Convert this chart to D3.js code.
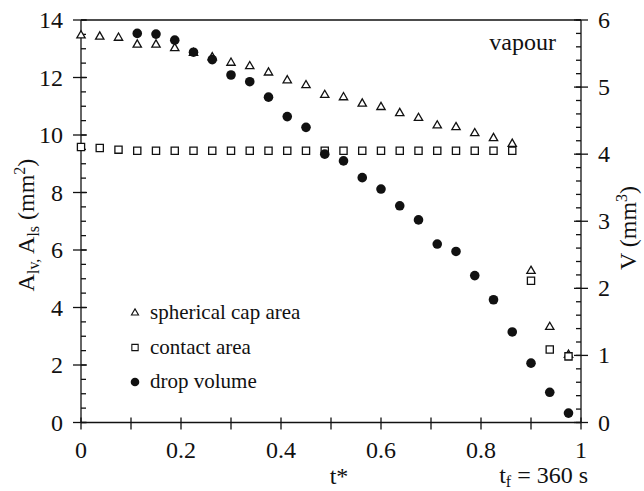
<!DOCTYPE html>
<html>
<head>
<meta charset="utf-8">
<script src="https://cdn.jsdelivr.net/npm/d3@7"></script>
<style>
  html, body { margin: 0; padding: 0; background: #fff; }
  svg { display: block; }
</style>
</head>
<body>
<svg id="chart" width="644" height="491"></svg>
<script>
// Normalised time t* of each measurement (t_f = 360 s)
const tAreas = [0, 0.0375, 0.075, 0.1125, 0.15, 0.1875, 0.225, 0.2625, 0.3, 0.3375,
  0.375, 0.4125, 0.45, 0.4875, 0.525, 0.5625, 0.6, 0.6375, 0.675, 0.7125,
  0.75, 0.7875, 0.825, 0.8625, 0.9, 0.9375, 0.975];
// Spherical cap (liquid-vapour) area A_lv, mm²
const capArea = [13.46, 13.42, 13.38, 13.14, 13.14, 13.02, 12.85, 12.7, 12.51, 12.39,
  12.17, 11.9, 11.73, 11.39, 11.31, 11.09, 10.97, 10.76, 10.59, 10.33,
  10.27, 10.06, 9.89, 9.69, 5.27, 3.32, 2.35];
// Contact (liquid-solid) area A_ls, mm²
const contactArea = [9.58, 9.55, 9.49, 9.45, 9.45, 9.45, 9.45, 9.45, 9.45, 9.45,
  9.45, 9.45, 9.45, 9.45, 9.45, 9.45, 9.45, 9.45, 9.45, 9.45,
  9.45, 9.45, 9.45, 9.45, 4.93, 2.54, 2.30];
// Drop volume V, mm³
const tVolume = [0.1125, 0.15, 0.1875, 0.225, 0.2625, 0.3, 0.3375, 0.375, 0.4125, 0.45,
  0.4875, 0.525, 0.5625, 0.6, 0.6375, 0.675, 0.7125, 0.75, 0.7875, 0.825,
  0.8625, 0.9, 0.9375, 0.975];
const volume = [5.80, 5.79, 5.70, 5.52, 5.41, 5.18, 5.08, 4.85, 4.56, 4.40,
  4.00, 3.90, 3.65, 3.48, 3.23, 3.02, 2.66, 2.55, 2.19, 1.83,
  1.35, 0.885, 0.45, 0.14];

// Axis ticks
const xTicks = [0, 0.1, 0.2, 0.3, 0.4, 0.5, 0.6, 0.7, 0.8, 0.9, 1];
const xLabels = ["0", "0.2", "0.4", "0.6", "0.8", "1"];
const leftMajor = [0, 2, 4, 6, 8, 10, 12, 14];
const rightMajor = [0, 1, 2, 3, 4, 5, 6];

const legendItems = ["spherical cap area", "contact area", "drop volume"];

const serif = "'Liberation Serif', 'Times New Roman', 'DejaVu Serif', serif";
const svg = d3.select("#chart")
  .attr("font-family", serif)
  .style("font-family", serif);
const L = 81, R = 581, T = 20, B = 422.5;

const x = d3.scaleLinear().domain([0, 1]).range([L, R]);
const yL = d3.scaleLinear().domain([0, 14]).range([B, T]);
const yR = d3.scaleLinear().domain([0, 6]).range([B, T]);

const ink = "#111";
const lw = 1.3;

// Frame
svg.append("line").attr("x1", L).attr("x2", R).attr("y1", T).attr("y2", T)
  .attr("stroke", ink).attr("stroke-width", lw);
svg.append("line").attr("x1", L).attr("x2", R).attr("y1", B).attr("y2", B)
  .attr("stroke", ink).attr("stroke-width", lw);
svg.append("line").attr("x1", L).attr("x2", L).attr("y1", T).attr("y2", B)
  .attr("stroke", ink).attr("stroke-width", lw);
svg.append("line").attr("x1", R).attr("x2", R).attr("y1", T).attr("y2", B)
  .attr("stroke", ink).attr("stroke-width", lw);

// Bottom axis ticks (crossing the axis line)
const gx = svg.append("g");
gx.selectAll("line").data(xTicks).join("line")
  .attr("x1", d => x(d)).attr("x2", d => x(d))
  .attr("y1", B - 5).attr("y2", B + 7)
  .attr("stroke", ink).attr("stroke-width", lw);
gx.selectAll("text").data(xLabels).join("text")
  .attr("x", d => x(+d)).attr("y", 458)
  .attr("text-anchor", "middle").attr("font-size", 24).attr("fill", ink)
  .text(d => d);

// Left axis: minor ticks every 0.5, major every 2
const leftMinor = d3.range(0, 14.01, 0.5);
const gl = svg.append("g");
gl.selectAll("line.minor").data(leftMinor).join("line").attr("class", "minor")
  .attr("x1", L).attr("x2", L + 5)
  .attr("y1", d => yL(d)).attr("y2", d => yL(d))
  .attr("stroke", ink).attr("stroke-width", lw);
gl.selectAll("line.major").data(leftMajor).join("line").attr("class", "major")
  .attr("x1", L - 8).attr("x2", L + 6)
  .attr("y1", d => yL(d)).attr("y2", d => yL(d))
  .attr("stroke", ink).attr("stroke-width", lw);
gl.selectAll("text").data(leftMajor).join("text")
  .attr("x", 63).attr("y", d => yL(d) + 8)
  .attr("text-anchor", "end").attr("font-size", 24).attr("fill", ink)
  .text(d => d);

// Right axis: minor ticks every 0.2, major every 1
const rightMinor = d3.range(0, 6.001, 0.2);
const gr = svg.append("g");
gr.selectAll("line.minor").data(rightMinor).join("line").attr("class", "minor")
  .attr("x1", R - 5).attr("x2", R)
  .attr("y1", d => yR(d)).attr("y2", d => yR(d))
  .attr("stroke", ink).attr("stroke-width", lw);
gr.selectAll("line.major").data(rightMajor).join("line").attr("class", "major")
  .attr("x1", R - 7).attr("x2", R + 7)
  .attr("y1", d => yR(d)).attr("y2", d => yR(d))
  .attr("stroke", ink).attr("stroke-width", lw);
gr.selectAll("text").data(rightMajor).join("text")
  .attr("x", 598).attr("y", d => yR(d) + 8)
  .attr("text-anchor", "start").attr("font-size", 24).attr("fill", ink)
  .text(d => d);

// Axis titles
svg.append("text").attr("x", 339).attr("y", 484).attr("fill", ink)
  .attr("text-anchor", "middle").attr("font-size", 24).text("t*");

const tf = svg.append("text").attr("x", 588).attr("y", 483).attr("fill", ink)
  .attr("text-anchor", "end").attr("font-size", 24);
tf.append("tspan").text("t");
tf.append("tspan").attr("font-size", 16).attr("dy", 4).text("f");
tf.append("tspan").attr("dy", -4).text(" = 360 s");

const yt = svg.append("text").attr("fill", ink)
  .attr("transform", "translate(34,225) rotate(-90)")
  .attr("text-anchor", "middle").attr("font-size", 24);
yt.append("tspan").text("A");
yt.append("tspan").attr("font-size", 16).attr("dy", 5).text("lv,");
yt.append("tspan").attr("dy", -5).text(" A");
yt.append("tspan").attr("font-size", 16).attr("dy", 5).text("ls");
yt.append("tspan").attr("dy", -5).text(" (mm");
yt.append("tspan").attr("font-size", 16).attr("dy", -9).text("2");
yt.append("tspan").attr("dy", 9).text(")");

const vt = svg.append("text").attr("fill", ink)
  .attr("transform", "translate(636,228) rotate(-90)")
  .attr("text-anchor", "middle").attr("font-size", 24);
vt.append("tspan").text("V (mm");
vt.append("tspan").attr("font-size", 16).attr("dy", -9).text("3");
vt.append("tspan").attr("dy", 9).text(")");

svg.append("text").attr("x", 556).attr("y", 50).attr("fill", ink)
  .attr("text-anchor", "end").attr("font-size", 24).text("vapour");

// Markers
const tri = d3.symbol().type(d3.symbolTriangle).size(30);
const sq = d3.symbol().type(d3.symbolSquare).size(52);

const capPts = tAreas.map((t, i) => [t, capArea[i]]);
const conPts = tAreas.map((t, i) => [t, contactArea[i]]);
const volPts = tVolume.map((t, i) => [t, volume[i]]);

svg.append("g").selectAll("path").data(capPts).join("path")
  .attr("d", tri)
  .attr("transform", d => `translate(${x(d[0])},${yL(d[1])})`)
  .attr("fill", "#fff").attr("stroke", ink).attr("stroke-width", 1.3);

svg.append("g").selectAll("path").data(conPts).join("path")
  .attr("d", sq)
  .attr("transform", d => `translate(${x(d[0])},${yL(d[1])})`)
  .attr("fill", "#fff").attr("stroke", ink).attr("stroke-width", 1.3);

svg.append("g").selectAll("circle").data(volPts).join("circle")
  .attr("cx", d => x(d[0])).attr("cy", d => yR(d[1])).attr("r", 4.8)
  .attr("fill", ink);

// Legend
const lg = svg.append("g");
const legendSym = [
  d3.symbol().type(d3.symbolTriangle).size(22)(),
  d3.symbol().type(d3.symbolSquare).size(40)(),
  null
];
legendItems.forEach((label, i) => {
  const cy = 313 + i * 34.5;
  if (legendSym[i]) {
    lg.append("path").attr("d", legendSym[i])
      .attr("transform", `translate(135,${cy})`)
      .attr("fill", "#fff").attr("stroke", ink).attr("stroke-width", 1.1);
  } else {
    lg.append("circle").attr("cx", 135).attr("cy", cy).attr("r", 4.3).attr("fill", ink);
  }
  lg.append("text").attr("x", 150).attr("y", cy + 6).attr("fill", ink)
    .attr("font-size", 21).text(label);
});
</script>
</body>
</html>
